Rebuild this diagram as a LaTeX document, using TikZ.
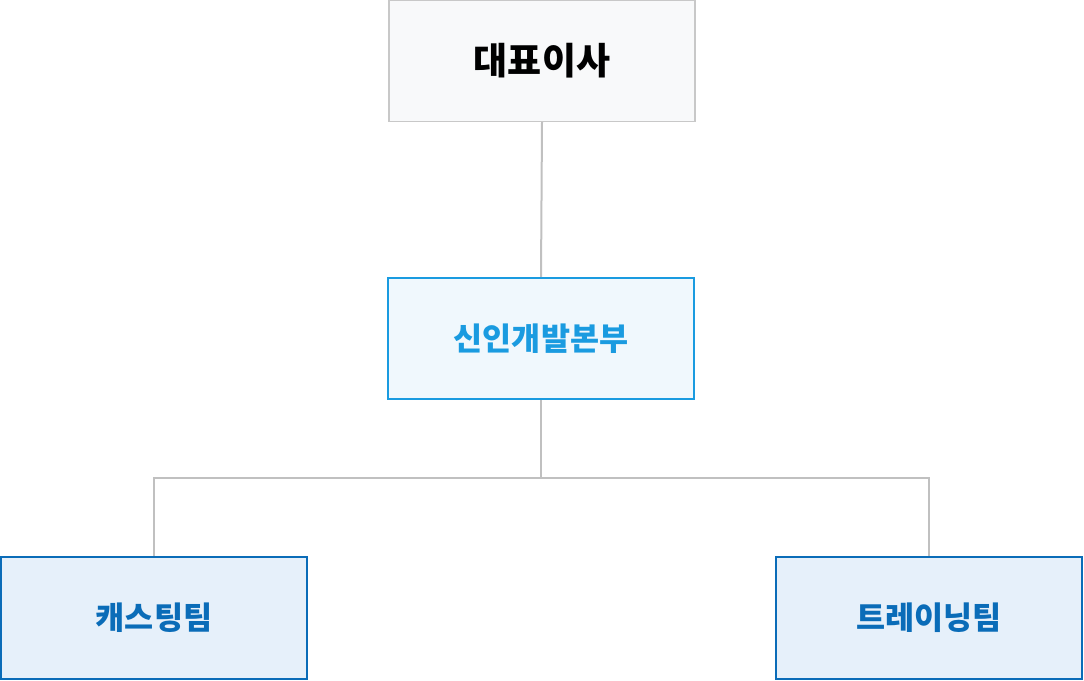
\documentclass[tikz,border=0pt]{standalone}
\usepackage{fontspec}
\setmainfont{Noto Sans CJK KR}
\usetikzlibrary{positioning}
\definecolor{ceofill}{RGB}{248,249,250}
\definecolor{ceoline}{RGB}{200,200,200}
\definecolor{divfill}{RGB}{240,248,253}
\definecolor{divblue}{RGB}{26,155,224}
\definecolor{teamfill}{RGB}{230,240,250}
\definecolor{teamblue}{RGB}{10,108,184}
\definecolor{linkgray}{RGB}{192,192,192}

\begin{document}
\begin{tikzpicture}[x=1pt,y=1pt,
    box/.style={rectangle,minimum width=306pt,minimum height=121pt,inner sep=0pt,font=\bfseries\fontsize{31.6}{38}\selectfont},
    ceobox/.style={box,fill=ceofill,draw=ceoline,line width=1.2pt,text=black,font=\bfseries\fontsize{37}{44}\selectfont},
    divbox/.style={box,fill=divfill,draw=divblue,line width=2pt,text=divblue},
    teambox/.style={box,fill=teamfill,draw=teamblue,line width=2pt,text=teamblue},
    link/.style={draw=linkgray,line width=2pt}]
    \useasboundingbox (0,0) rectangle (1084,680);
    % org chart boxes
    \node[ceobox] (ceo) at (542,619) {대표이사};
    \node[divbox] (dev) at (541,341.5) {신인개발본부};
    \node[teambox] (cast) at (154,62) {캐스팅팀};
    \node[teambox] (train) at (929,62) {트레이닝팀};
    \coordinate (fork) at (541,202);
    % connectors
    \draw[link] (ceo.south) -- (dev.north);
    \draw[link] (dev.south) -- (fork);
    \draw[link] (fork) -| (cast.north);
    \draw[link] (fork) -| (train.north);
\end{tikzpicture}
\end{document}
